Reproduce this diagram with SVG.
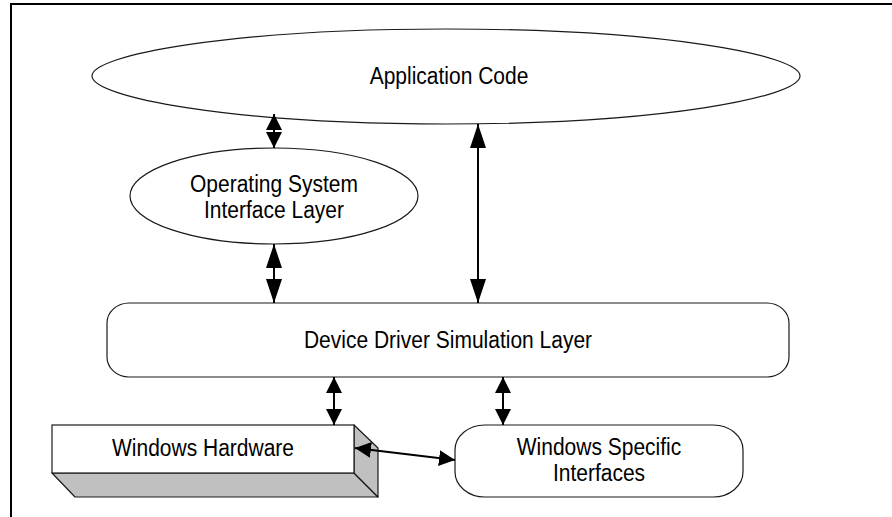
<svg xmlns="http://www.w3.org/2000/svg" width="892" height="517" viewBox="0 0 892 517">
<style>
.shape{fill:#fff;stroke:#1a1a1a;stroke-width:1.2}
.depth{fill:#c0c0c0;stroke:#1a1a1a;stroke-width:1.2;stroke-linejoin:round}
.lbl{font-family:"Liberation Sans",Arial,sans-serif;font-size:21px;fill:#000;text-anchor:middle}
.conn{stroke:#000;stroke-width:2;fill:none}
.frame{stroke:#000;stroke-width:2;fill:none}
</style>
<defs>
<marker id="hs" viewBox="0 0 16 16" markerWidth="16" markerHeight="16" refX="16" refY="8" orient="auto-start-reverse" markerUnits="userSpaceOnUse">
<path d="M0,0 L16,8 L0,16 Z" fill="#000"/>
</marker>
<marker id="hl" viewBox="0 0 24 16" markerWidth="24" markerHeight="16" refX="24" refY="8" orient="auto-start-reverse" markerUnits="userSpaceOnUse">
<path d="M0,0 L24,8 L0,16 Z" fill="#000"/>
</marker>
</defs>
<path class="frame" d="M11,517 L11,4 L892,4"/>
<g id="app">
<path class="shape" d="M92,76 C92,97 230,124 446,124 C662,124 800,97 800,76 C800,55 662,29 446,29 C230,29 92,55 92,76 Z"/>
<text class="lbl" transform="translate(449,84) scale(1,1.12)">Application Code</text>
</g>
<g id="os">
<ellipse class="shape" cx="274" cy="196" rx="144" ry="48"/>
<text class="lbl" transform="translate(274,192) scale(1,1.1)">Operating System</text>
<text class="lbl" transform="translate(274,218) scale(1,1.1)">Interface Layer</text>
</g>
<g id="ddsl">
<rect class="shape" x="107" y="303" width="682" height="74" rx="22" ry="20"/>
<text class="lbl" transform="translate(448,348) scale(1,1.12)">Device Driver Simulation Layer</text>
</g>
<g id="hw">
<path class="depth" d="M52,473 L354,473 L378,497 L75,497 Z"/>
<path class="depth" d="M354,425 L378,448 L378,497 L354,473 Z"/>
<rect class="shape" x="52" y="425" width="302" height="48"/>
<text class="lbl" transform="translate(203,456) scale(1,1.12)">Windows Hardware</text>
</g>
<g id="wsi">
<rect class="shape" x="455" y="425" width="288" height="72" rx="30" ry="25"/>
<text class="lbl" transform="translate(599,455) scale(1,1.1)">Windows Specific</text>
<text class="lbl" transform="translate(599,481) scale(1,1.1)">Interfaces</text>
</g>
<g id="connectors">
<line class="conn" x1="274" y1="114" x2="274" y2="148" marker-start="url(#hs)" marker-end="url(#hs)"/>
<line class="conn" x1="274" y1="244" x2="274" y2="303" marker-start="url(#hl)" marker-end="url(#hl)"/>
<line class="conn" x1="478" y1="124" x2="478" y2="303" marker-start="url(#hl)" marker-end="url(#hl)"/>
<line class="conn" x1="334" y1="377" x2="334" y2="425" marker-start="url(#hs)" marker-end="url(#hs)"/>
<line class="conn" x1="503" y1="377" x2="503" y2="425" marker-start="url(#hs)" marker-end="url(#hs)"/>
<line class="conn" x1="355" y1="448" x2="455" y2="460" marker-start="url(#hs)" marker-end="url(#hs)"/>
</g>
</svg>
